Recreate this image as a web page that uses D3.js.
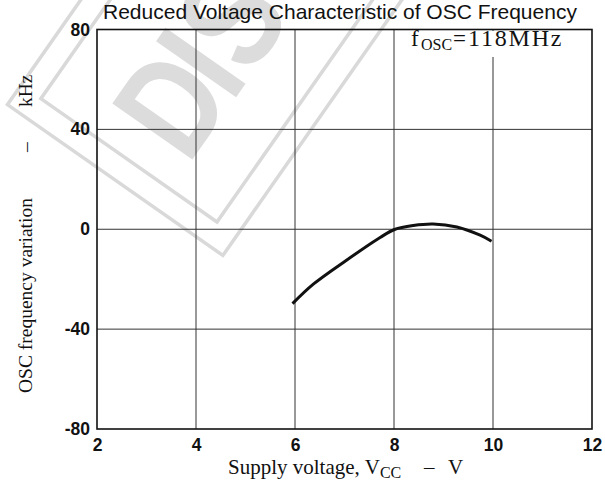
<!DOCTYPE html>
<html><head><meta charset="utf-8">
<script src="https://cdn.jsdelivr.net/npm/d3@7"></script>
<style>body{margin:0;background:#fff}svg{display:block}</style>
</head><body><svg id="c" width="605" height="484"></svg>
<script>
const titleText = "Reduced Voltage Characteristic of OSC Frequency";
const xTicks = [2, 4, 6, 8, 10, 12];
const yTicks = [-80, -40, 0, 40, 80];
const supplyVoltage = [5.95, 6.37, 7.04, 7.72, 8.01, 8.39, 8.79, 9.27, 9.74, 9.97];
const freqVariation = [-29.8, -22, -12.4, -3.3, -0.1, 1.5, 2.1, 0.9, -2.4, -4.8];
const watermarkLetters = ["D", "I", "S"];

const svg = d3.select("#c");
const m = {l: 97, r: 592, t: 29.5, b: 429};
const x = d3.scaleLinear().domain([2, 12]).range([m.l, m.r]);
const y = d3.scaleLinear().domain([-80, 80]).range([m.b, m.t]);
const sans = "Liberation Sans, Arial, sans-serif";
const serif = "Liberation Serif, Times New Roman, serif";

// watermark
const wm = svg.append("g").attr("transform", "translate(217,222) rotate(-55)");
wm.append("rect").attr("x", 0).attr("y", -215).attr("width", 700).attr("height", 215)
  .attr("fill", "none").attr("stroke", "#d9d9d9").attr("stroke-width", 3.5);
wm.append("rect").attr("x", -24).attr("y", -239).attr("width", 724).attr("height", 263)
  .attr("fill", "none").attr("stroke", "#d9d9d9").attr("stroke-width", 3.5);
const wl = wm.append("g").attr("transform", "scale(0.8,1)");
const wx = [37, 132, 172];
wl.selectAll("text").data(watermarkLetters).join("text")
  .attr("x", (d, i) => wx[i]).attr("y", -56).text(d => d)
  .attr("font-family", sans).attr("font-weight", "bold")
  .attr("font-size", 142).attr("fill", "#dcdcdc");

// grid
const g = svg.append("g");
g.selectAll(".vg").data(xTicks.slice(1, -1)).join("line")
  .attr("x1", d => x(d)).attr("x2", d => x(d)).attr("y1", m.t).attr("y2", m.b)
  .attr("stroke", "#333").attr("stroke-width", 1);
g.selectAll(".hg").data(yTicks.slice(1, -1)).join("line")
  .attr("x1", m.l).attr("x2", m.r).attr("y1", d => y(d)).attr("y2", d => y(d))
  .attr("stroke", "#333").attr("stroke-width", 1);
g.append("rect").attr("x", m.l).attr("y", m.t).attr("width", m.r - m.l).attr("height", m.b - m.t)
  .attr("fill", "none").attr("stroke", "#111").attr("stroke-width", 1.6);

// tick labels via d3 axes
const xa = svg.append("g").attr("transform", `translate(0,${m.b})`)
  .call(d3.axisBottom(x).tickValues(xTicks).tickSize(0).tickPadding(10).tickFormat(d3.format("d")));
const ya = svg.append("g").attr("transform", `translate(${m.l},0)`)
  .call(d3.axisLeft(y).tickValues(yTicks).tickSize(0).tickPadding(7).tickFormat(d => d < 0 ? "-" + Math.abs(d) : d));
[xa, ya].forEach(a => {
  a.select(".domain").remove();
  a.selectAll("text").attr("font-family", sans)
    .attr("font-weight", "bold").attr("font-size", 17.5).attr("fill", "#111");
});

// curve
const pts = supplyVoltage.map((v, i) => [v, freqVariation[i]]);
svg.append("path").datum(pts)
  .attr("d", d3.line().x(d => x(d[0])).y(d => y(d[1])).curve(d3.curveCatmullRom))
  .attr("fill", "none").attr("stroke", "#111").attr("stroke-width", 3);

// annotation
const ann = svg.append("g");
ann.append("rect").attr("x", 404).attr("y", 31).attr("width", 180).attr("height", 26).attr("fill", "#fff");
ann.append("text").attr("x", 411).attr("y", 46).attr("font-family", serif).attr("font-size", 23).attr("fill", "#111").text("f");
ann.append("text").attr("x", 421).attr("y", 50).attr("font-family", serif).attr("font-size", 16).attr("fill", "#111").text("OSC");
ann.append("text").attr("x", 453).attr("y", 46).attr("font-family", serif).attr("font-size", 23).attr("fill", "#111").text("=");
ann.append("text").attr("x", 468).attr("y", 46).attr("font-family", serif).attr("font-size", 24)
  .attr("letter-spacing", 1.8).attr("fill", "#111").text("118MHz");

// title
svg.append("text").attr("x", 103).attr("y", 19)
  .attr("font-family", sans).attr("font-size", 21).attr("fill", "#111")
  .text(titleText);

// axis titles
const xl = svg.append("text").attr("x", 228).attr("y", 474)
  .attr("font-family", serif).attr("font-size", 21).attr("fill", "#111");
xl.append("tspan").text("Supply voltage, V");
xl.append("tspan").text("CC").attr("font-size", 16).attr("dy", 4);
xl.append("tspan").text("–").attr("x", 424).attr("dy", -4);
xl.append("tspan").text("V").attr("x", 448);

const yl = svg.append("text").attr("transform", "translate(32,0) rotate(-90)")
  .attr("font-family", serif).attr("font-size", 19.5).attr("fill", "#111");
yl.append("tspan").attr("x", -393).text("OSC frequency variation");
yl.append("tspan").attr("x", -152).text("–");
yl.append("tspan").attr("x", -107).text("kHz");
</script></body></html>
